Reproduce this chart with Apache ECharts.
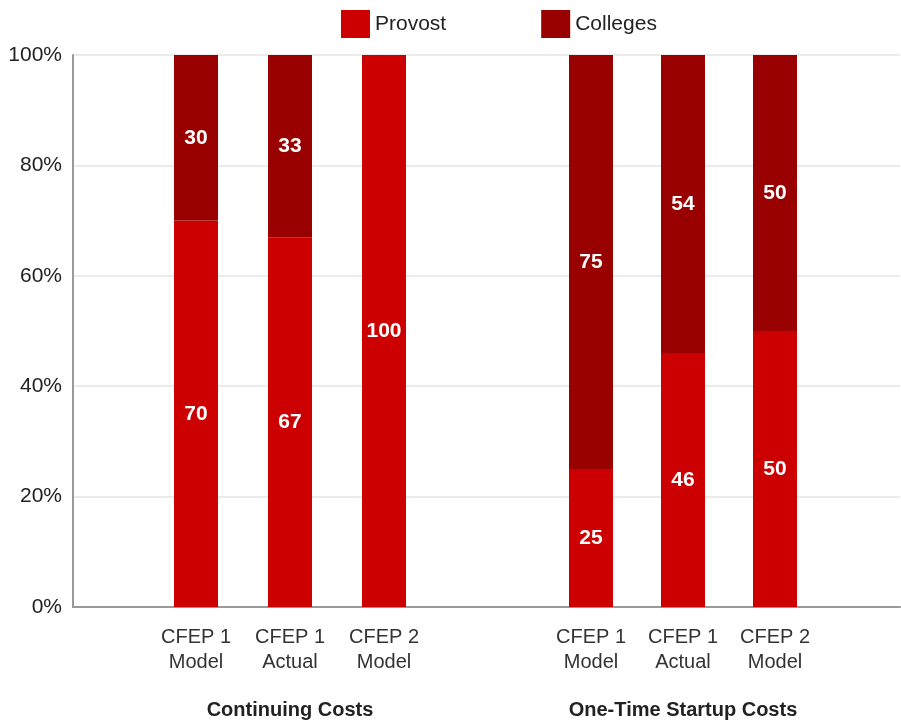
<!DOCTYPE html>
<html>
<head>
<meta charset="utf-8">
<style>
  html, body { margin: 0; padding: 0; background: #fff; }
  #chart1 { width: 901px; height: 722px; }
</style>
<script src="https://cdn.jsdelivr.net/npm/echarts@6/dist/echarts.min.js"></script>
</head>
<body>
<div id="chart1"></div>
<script>
// 数据
const categories = ['CFEP 1\nModel', 'CFEP 1\nActual', 'CFEP 2\nModel'];
const groupNames = ['Continuing Costs', 'One-Time Startup Costs'];
const provostContinuing = [70, 67, 100];
const collegesContinuing = [30, 33, 0];
const provostStartup = [25, 46, 50];
const collegesStartup = [75, 54, 50];
const yTicks = [0, 20, 40, 60, 80, 100];

const PROVOST = '#cc0000';
const COLLEGES = '#990000';
const FONT = '"Liberation Sans", Arial, sans-serif';

function initChart() {
    const chart = echarts.init(document.getElementById('chart1'), null, { renderer: 'canvas' });

    const barLabel = {
        show: true,
        position: 'inside',
        color: '#fff',
        fontFamily: FONT,
        fontWeight: 'bold',
        fontSize: 21,
        formatter: p => (p.value ? p.value : '')
    };

    // 两个分组的小坐标系
    const groupX = (idx) => ({
        type: 'category',
        gridIndex: idx,
        data: categories,
        axisLine: { show: false },
        axisTick: { show: false },
        axisLabel: {
            color: '#333',
            fontFamily: FONT,
            fontSize: 20,
            lineHeight: 25,
            margin: 18
        },
        name: groupNames[idx - 1],
        nameLocation: 'middle',
        nameGap: 93,
        nameTextStyle: {
            color: '#222',
            fontFamily: FONT,
            fontWeight: 'bold',
            fontSize: 20
        }
    });
    const hiddenY = (idx) => ({
        type: 'value',
        gridIndex: idx,
        min: 0,
        max: 100,
        show: false
    });

    const mkSeries = (name, data, idx, color) => ({
        type: 'bar',
        name: name,
        xAxisIndex: idx,
        yAxisIndex: idx,
        stack: 'g' + idx,
        barWidth: 44,
        data: data,
        itemStyle: { color: color },
        label: barLabel
    });

    const option = {
        animation: false,
        legend: {
            top: 5,
            left: 336,
            itemWidth: 29,
            itemHeight: 28,
            itemGap: 95,
            icon: 'rect',
            textStyle: { color: '#222', fontFamily: FONT, fontSize: 21 },
            data: ['Provost', 'Colleges']
        },
        grid: [
            { left: 73, right: 1, top: 55, bottom: 115, outerBoundsMode: 'none' },
            { left: 149, width: 282, top: 55, bottom: 115, outerBoundsMode: 'none' },
            { left: 545, width: 276, top: 55, bottom: 115, outerBoundsMode: 'none' }
        ],
        xAxis: [
            {
                type: 'category',
                gridIndex: 0,
                data: [''],
                axisLine: { lineStyle: { color: '#999', width: 2 } },
                axisTick: { show: false },
                axisLabel: { show: false }
            },
            groupX(1),
            groupX(2)
        ],
        yAxis: [
            {
                type: 'value',
                gridIndex: 0,
                min: yTicks[0],
                max: yTicks[yTicks.length - 1],
                interval: yTicks[1] - yTicks[0],
                axisLine: { show: true, lineStyle: { color: '#999', width: 2 } },
                axisTick: { show: false },
                axisLabel: {
                    color: '#222',
                    fontFamily: FONT,
                    fontSize: 21,
                    margin: 11,
                    formatter: '{value}%'
                },
                splitLine: { lineStyle: { color: '#ebebeb', width: 2 } }
            },
            hiddenY(1),
            hiddenY(2)
        ],
        series: [
            mkSeries('Provost', provostContinuing, 1, PROVOST),
            mkSeries('Colleges', collegesContinuing, 1, COLLEGES),
            mkSeries('Provost', provostStartup, 2, PROVOST),
            mkSeries('Colleges', collegesStartup, 2, COLLEGES)
        ]
    };

    chart.setOption(option);
}

window.addEventListener('load', initChart);
</script>
</body>
</html>
